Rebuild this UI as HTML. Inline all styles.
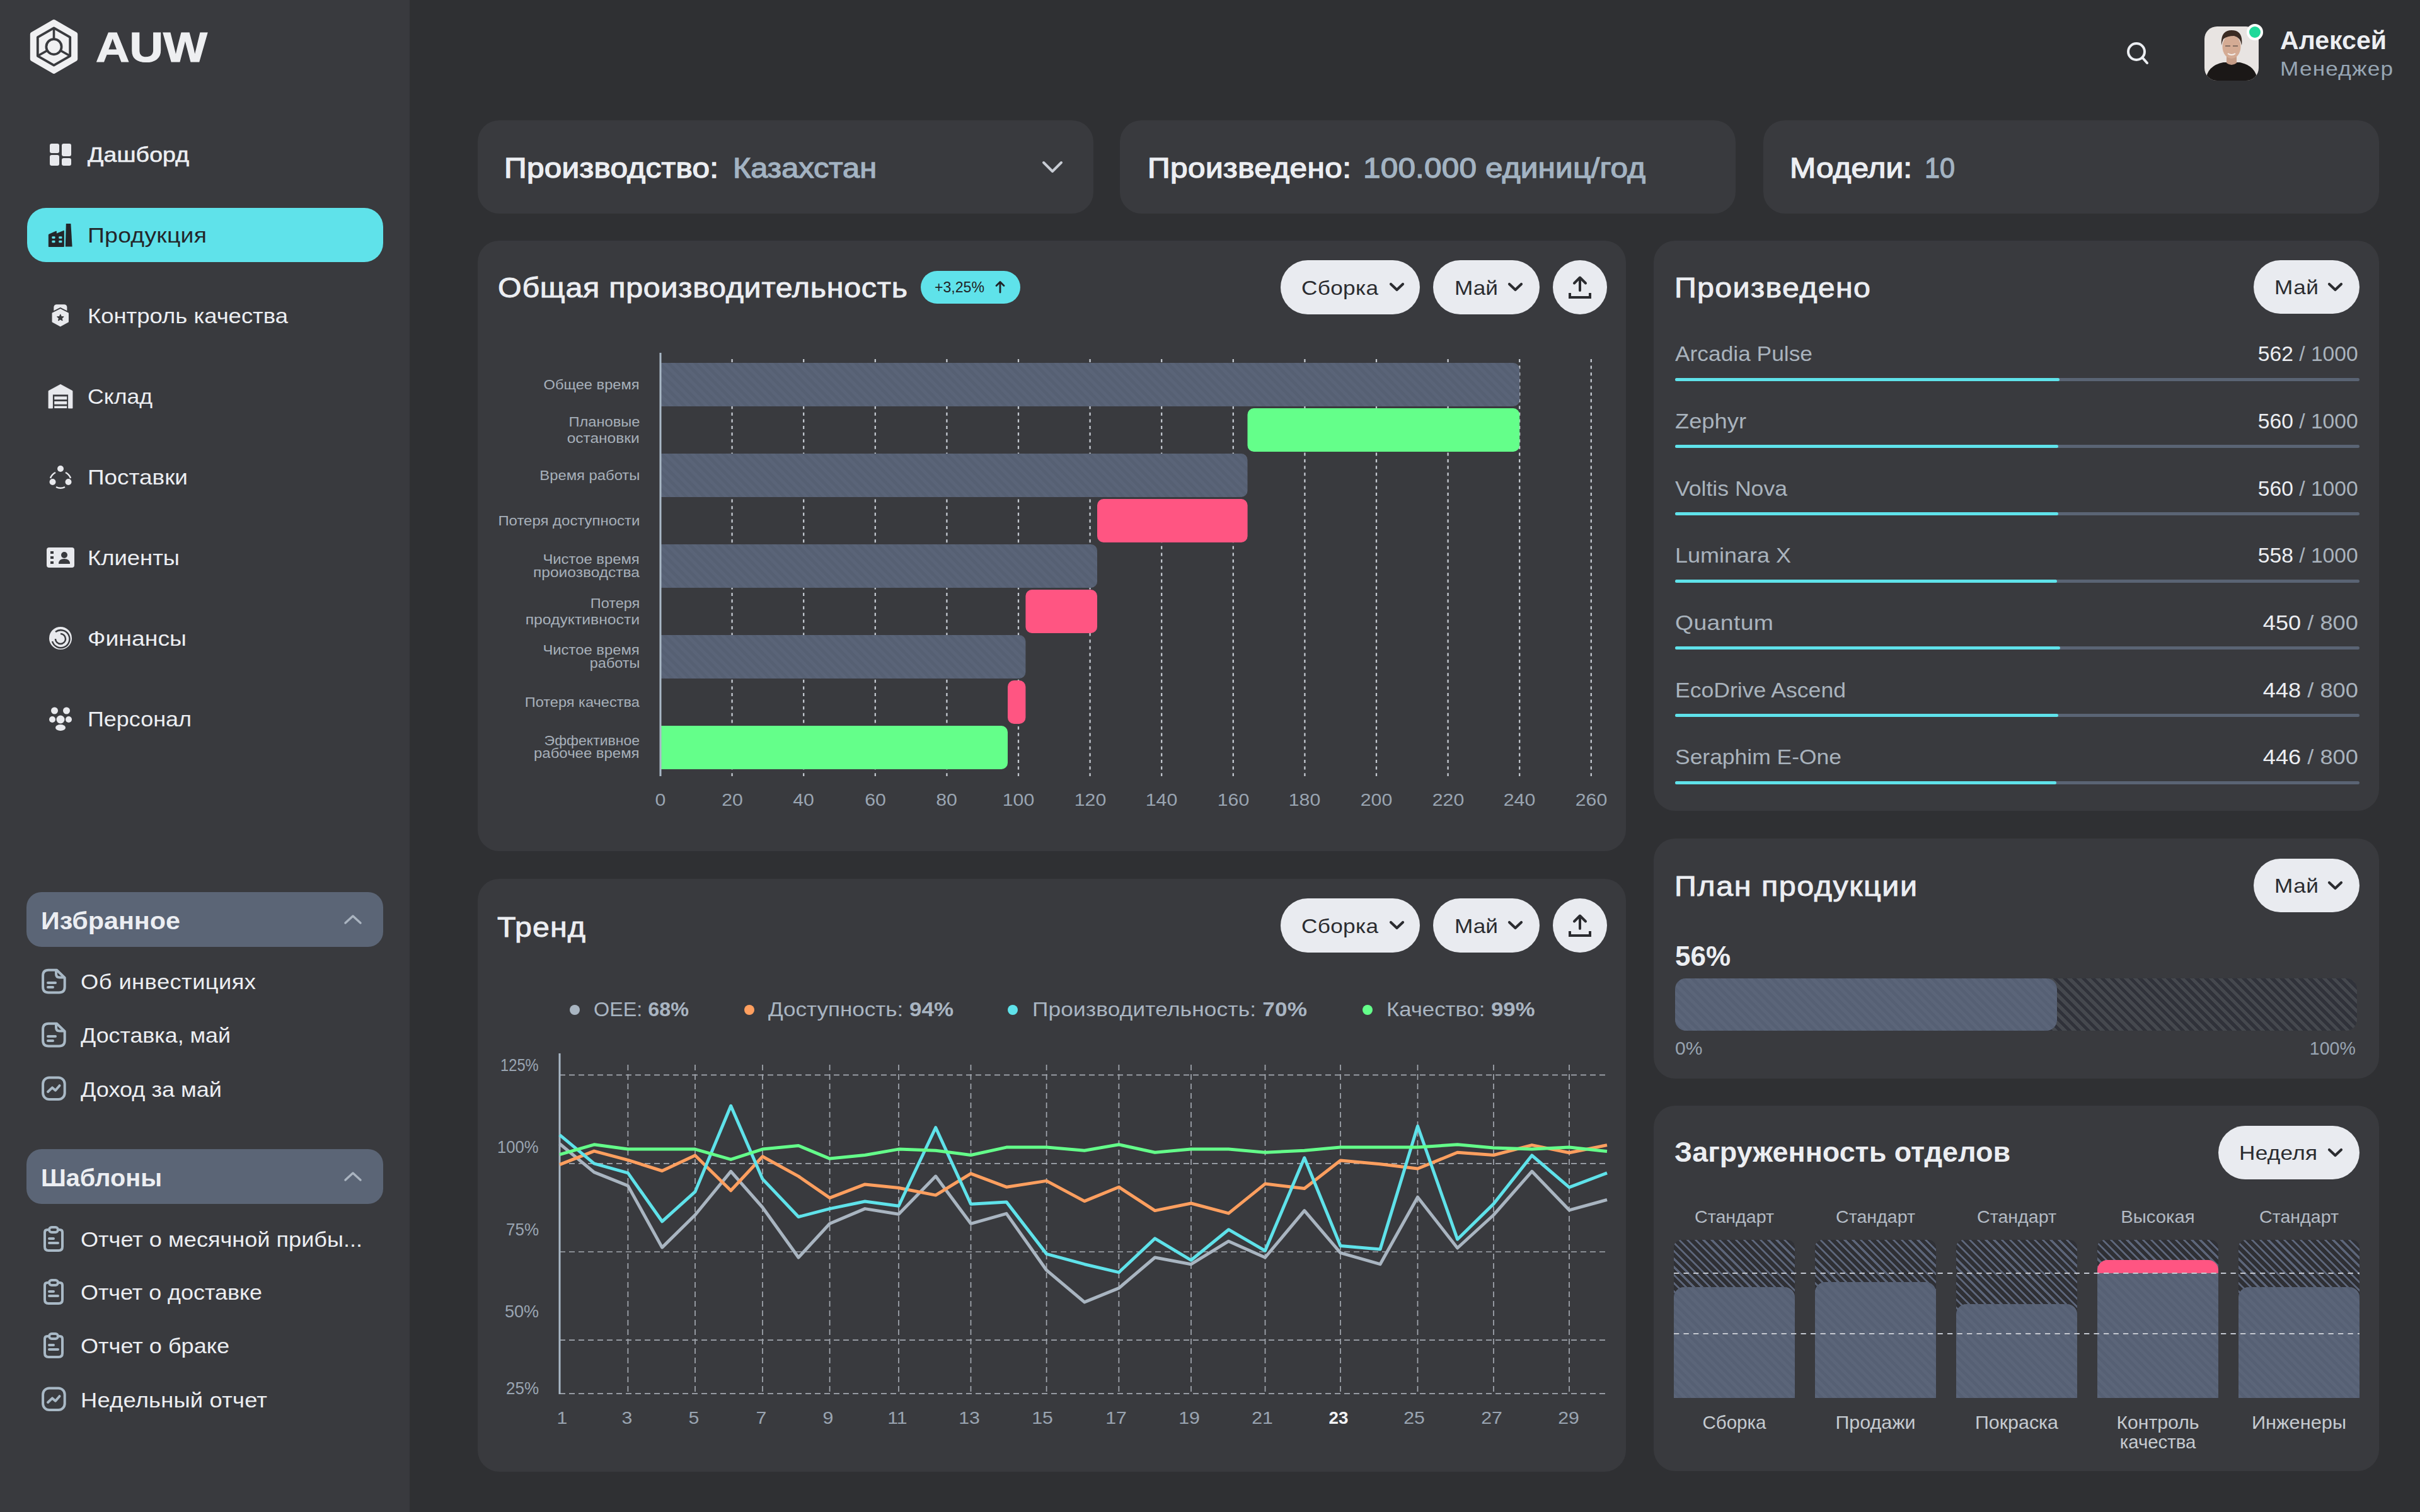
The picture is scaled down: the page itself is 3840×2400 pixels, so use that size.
<!DOCTYPE html>
<html><head><meta charset="utf-8"><style>
html,body{margin:0;padding:0;width:3840px;height:2400px;overflow:hidden;background:#2f3033;font-family:"Liberation Sans", sans-serif;}
.t{position:absolute;white-space:nowrap;}
b{font-weight:700}
@media (max-width:2400px){html{zoom:0.5}}
</style></head><body>
<div style="position:absolute;left:0;top:0;width:650px;height:2400px;background:#393a3e"></div>
<svg style="position:absolute;left:0;top:0" width="650" height="140" viewBox="0 0 650 140">
<path d="M85.5 34.5 L119.7 54.2 L119.7 93.8 L85.5 113.5 L51.3 93.8 L51.3 54.2 Z" fill="#f0f0f2" stroke="#f0f0f2" stroke-width="7" stroke-linejoin="round"/>
<path d="M85.5 44.3 L111.2 59.2 L111.2 88.8 L85.5 103.7 L59.8 88.8 L59.8 59.1 Z" fill="none" stroke="#393a3e" stroke-width="3.8" stroke-linejoin="round"/>
<circle cx="85.5" cy="74.2" r="12.1" fill="none" stroke="#393a3e" stroke-width="3.8"/>
<line x1="85.5" y1="45" x2="85.5" y2="62" stroke="#393a3e" stroke-width="3.6"/>
<line x1="59.8" y1="88.8" x2="75" y2="80.2" stroke="#393a3e" stroke-width="3.6"/>
<line x1="111.2" y1="88.8" x2="96" y2="80.2" stroke="#393a3e" stroke-width="3.6"/>
</svg>
<div class="t" style="left:152px;top:41.3px;font-size:67px;line-height:67px;color:#eeeff1;font-weight:700;letter-spacing:0.00px;transform:scaleX(1.1050);transform-origin:0 0;-webkit-text-stroke:1.2px #eeeff1;">AUW</div>
<div style="position:absolute;left:43px;top:330px;width:565px;height:86px;border-radius:30px;background:#5fe2ea"></div>
<div class="t" style="left:139px;top:228.4px;font-size:34px;line-height:34px;color:#eceef2;font-weight:400;letter-spacing:0.13px;transform:scaleX(1.1000);transform-origin:0 0;-webkit-text-stroke:0.6px #eceef2;">Дашборд</div>
<div class="t" style="left:139px;top:356.4px;font-size:34px;line-height:34px;color:#24262a;font-weight:400;letter-spacing:0.21px;transform:scaleX(1.1000);transform-origin:0 0;">Продукция</div>
<div class="t" style="left:139px;top:484.4px;font-size:34px;line-height:34px;color:#eceef2;font-weight:400;letter-spacing:0.00px;transform:scaleX(1.0718);transform-origin:0 0;">Контроль качества</div>
<div class="t" style="left:139px;top:612.4px;font-size:34px;line-height:34px;color:#eceef2;font-weight:400;letter-spacing:0.00px;transform:scaleX(1.0467);transform-origin:0 0;">Склад</div>
<div class="t" style="left:139px;top:740.4px;font-size:34px;line-height:34px;color:#eceef2;font-weight:400;letter-spacing:0.00px;transform:scaleX(1.0861);transform-origin:0 0;">Поставки</div>
<div class="t" style="left:139px;top:868.4px;font-size:34px;line-height:34px;color:#eceef2;font-weight:400;letter-spacing:0.00px;transform:scaleX(1.0708);transform-origin:0 0;">Клиенты</div>
<div class="t" style="left:139px;top:996.4px;font-size:34px;line-height:34px;color:#eceef2;font-weight:400;letter-spacing:0.00px;transform:scaleX(1.0998);transform-origin:0 0;">Финансы</div>
<div class="t" style="left:139px;top:1124.4px;font-size:34px;line-height:34px;color:#eceef2;font-weight:400;letter-spacing:0.00px;transform:scaleX(1.0572);transform-origin:0 0;">Персонал</div>
<svg style="position:absolute;left:0;top:0" width="650" height="1200" viewBox="0 0 650 1200">
<!-- dashboard -->
<rect x="79" y="228" width="15" height="15" rx="3" fill="#e8e9ed"/>
<rect x="98" y="228" width="15" height="20" rx="3" fill="#e8e9ed"/>
<rect x="79" y="246" width="15" height="17" rx="3" fill="#e8e9ed"/>
<rect x="98" y="251" width="15" height="12" rx="3" fill="#e8e9ed"/>
<!-- factory (dark) -->
<path d="M77.3 391.5 L77.3 372.3 L89.3 367 L89.3 371.2 L101.3 366.3 L101.3 391.5 Z" fill="#23262a" stroke="#23262a" stroke-width="1" stroke-linejoin="round"/>
<path d="M103.8 391.5 L104.8 355 L112.4 355 L114.6 391.5 Z" fill="#23262a"/>
<rect x="82.4" y="375.2" width="5.1" height="3.6" rx="1" fill="#5fe2ea"/><rect x="93.3" y="375.2" width="5.1" height="3.6" rx="1" fill="#5fe2ea"/>
<rect x="82.4" y="381.7" width="5.1" height="3.6" rx="1" fill="#5fe2ea"/><rect x="93.3" y="381.7" width="5.1" height="3.6" rx="1" fill="#5fe2ea"/>
<!-- quality -->
<rect x="85.3" y="483.3" width="21.1" height="14" rx="4.5" fill="#e8e9ed"/>
<path d="M95.8 489.5 L109.5 496.5 L109.5 511.5 L95.8 519 L82 511.5 L82 496.5 Z" fill="#e8e9ed" stroke="#393a3e" stroke-width="3" stroke-linejoin="round"/>
<path d="M95.8 490.8 L108.2 497.2 L108.2 510.8 L95.8 517.7 L83.3 510.8 L83.3 497.2 Z" fill="#e8e9ed" stroke="#e8e9ed" stroke-width="1.5" stroke-linejoin="round"/>
<path d="M95.80 498.90 L97.33 502.40 L101.13 502.77 L98.27 505.30 L99.09 509.03 L95.80 507.10 L92.51 509.03 L93.33 505.30 L90.47 502.77 L94.27 502.40 Z" fill="#393a3e" stroke="#393a3e" stroke-width="1" stroke-linejoin="round"/>
<!-- warehouse -->
<path d="M77 648 L77 620.5 L96 610.2 L115 620.5 L115 648 L108.5 648 L108.5 626 L83.5 626 L83.5 648 Z" fill="#e8e9ed" stroke="#e8e9ed" stroke-width="0.8" stroke-linejoin="round"/>
<rect x="86.2" y="629.3" width="20" height="4.9" fill="#e8e9ed"/><rect x="86.2" y="637" width="20" height="4.8" fill="#e8e9ed"/><rect x="86.2" y="644.5" width="20" height="3.5" fill="#e8e9ed"/>
<!-- supply -->
<circle cx="96" cy="744" r="5" fill="#e8e9ed"/><circle cx="83.5" cy="765" r="5" fill="#e8e9ed"/><circle cx="108.5" cy="765" r="5" fill="#e8e9ed"/>
<path d="M88 750 A16 16 0 0 0 80 759" fill="none" stroke="#e8e9ed" stroke-width="2.5"/>
<path d="M104 750 A16 16 0 0 1 112 759" fill="none" stroke="#e8e9ed" stroke-width="2.5"/>
<path d="M89 773 A16 16 0 0 0 103 773" fill="none" stroke="#e8e9ed" stroke-width="2.5"/>
<!-- clients -->
<rect x="74" y="869" width="44" height="32" rx="4" fill="#e8e9ed"/>
<rect x="80" y="875" width="5" height="4" fill="#393a3e"/><rect x="80" y="883" width="5" height="4" fill="#393a3e"/><rect x="80" y="891" width="5" height="4" fill="#393a3e"/>
<circle cx="102" cy="881" r="5" fill="#393a3e"/><path d="M93 895 Q93 887 102 887 Q111 887 111 895 Z" fill="#393a3e"/>
<!-- finance -->
<circle cx="96" cy="1013" r="18" fill="#e8e9ed"/>
<path d="M88 1014 A8 8 0 1 0 96 1006" fill="none" stroke="#393a3e" stroke-width="2.5"/>
<path d="M88 1003 A14 14 0 1 1 83 1018" fill="none" stroke="#393a3e" stroke-width="2.5"/>
<!-- staff -->
<circle cx="86.5" cy="1128" r="5.5" fill="#e8e9ed"/><circle cx="105.5" cy="1128" r="5.5" fill="#e8e9ed"/>
<circle cx="96" cy="1142" r="6.5" fill="#e8e9ed"/>
<ellipse cx="83" cy="1142" rx="5" ry="5" fill="#e8e9ed"/><ellipse cx="109" cy="1142" rx="5" ry="5" fill="#e8e9ed"/>
<ellipse cx="96" cy="1155" rx="8" ry="5" fill="#e8e9ed"/>
</svg>
<div style="position:absolute;left:42px;top:1416px;width:566px;height:87px;border-radius:24px;background:#5b6576"></div>
<div class="t" style="left:65px;top:1442.0px;font-size:39px;line-height:39px;color:#eceef2;font-weight:700;letter-spacing:0.00px;transform:scaleX(1.0590);transform-origin:0 0;">Избранное</div>
<svg style="position:absolute;left:540px;top:1446px" width="40" height="30"><path d="M8 19 L20 8 L32 19" fill="none" stroke="#aab4c0" stroke-width="3.5" stroke-linecap="round" stroke-linejoin="round"/></svg>
<div style="position:absolute;left:42px;top:1824px;width:566px;height:87px;border-radius:24px;background:#5b6576"></div>
<div class="t" style="left:65px;top:1850.0px;font-size:39px;line-height:39px;color:#eceef2;font-weight:700;letter-spacing:0.00px;transform:scaleX(1.0161);transform-origin:0 0;">Шаблоны</div>
<svg style="position:absolute;left:540px;top:1854px" width="40" height="30"><path d="M8 19 L20 8 L32 19" fill="none" stroke="#aab4c0" stroke-width="3.5" stroke-linecap="round" stroke-linejoin="round"/></svg>
<svg style="position:absolute;left:60px;top:1532px" width="52" height="52" viewBox="60 1532 52 52"><path d="M77 1539.7 L90 1539.7 L102.7 1552 L102.7 1566.4 Q102.7 1575.4 93.7 1575.4 L77 1575.4 Q68.1 1575.4 68.1 1566.4 L68.1 1548.7 Q68.1 1539.7 77 1539.7 Z" fill="none" stroke="#a9b9c6" stroke-width="4" stroke-linejoin="round"/><path d="M89 1540.5 L89 1546 Q89 1551.5 94.5 1551.5 L102 1551.5" fill="none" stroke="#a9b9c6" stroke-width="4"/><line x1="76" y1="1560" x2="88" y2="1560" stroke="#a9b9c6" stroke-width="4" stroke-linecap="round"/><line x1="76" y1="1567" x2="84" y2="1567" stroke="#a9b9c6" stroke-width="4" stroke-linecap="round"/></svg>
<div class="t" style="left:128px;top:1541.6px;font-size:33px;line-height:33px;color:#eceef2;font-weight:400;letter-spacing:0.39px;transform:scaleX(1.1000);transform-origin:0 0;">Об инвестициях</div>
<svg style="position:absolute;left:60px;top:1617px" width="52" height="52" viewBox="60 1617 52 52"><path d="M77 1624.7 L90 1624.7 L102.7 1637 L102.7 1651.4 Q102.7 1660.4 93.7 1660.4 L77 1660.4 Q68.1 1660.4 68.1 1651.4 L68.1 1633.7 Q68.1 1624.7 77 1624.7 Z" fill="none" stroke="#a9b9c6" stroke-width="4" stroke-linejoin="round"/><path d="M89 1625.5 L89 1631 Q89 1636.5 94.5 1636.5 L102 1636.5" fill="none" stroke="#a9b9c6" stroke-width="4"/><line x1="76" y1="1645" x2="88" y2="1645" stroke="#a9b9c6" stroke-width="4" stroke-linecap="round"/><line x1="76" y1="1652" x2="84" y2="1652" stroke="#a9b9c6" stroke-width="4" stroke-linecap="round"/></svg>
<div class="t" style="left:128px;top:1626.6px;font-size:33px;line-height:33px;color:#eceef2;font-weight:400;letter-spacing:0.00px;transform:scaleX(1.0841);transform-origin:0 0;">Доставка, май</div>
<svg style="position:absolute;left:60px;top:1703px" width="52" height="52" viewBox="60 1703 52 52"><rect x="68.1" y="1710.4" width="34.6" height="34.6" rx="10" fill="none" stroke="#a9b9c6" stroke-width="4"/><path d="M76 1733 L83 1726.4 L88 1730.7 L94.5 1723.2" fill="none" stroke="#a9b9c6" stroke-width="4" stroke-linecap="round" stroke-linejoin="round"/></svg>
<div class="t" style="left:128px;top:1712.6px;font-size:33px;line-height:33px;color:#eceef2;font-weight:400;letter-spacing:0.00px;transform:scaleX(1.0926);transform-origin:0 0;">Доход за май</div>
<svg style="position:absolute;left:60px;top:1941px" width="52" height="52" viewBox="60 1941 52 52"><path d="M77 1952 L75 1952 Q71 1952 71 1956 L71 1979 Q71 1985 77 1985 L93 1985 Q99 1985 99 1979 L99 1956 Q99 1952 95 1952 L93 1952" fill="none" stroke="#a9b9c6" stroke-width="4"/><rect x="78" y="1948" width="14" height="8" rx="4" fill="none" stroke="#a9b9c6" stroke-width="4"/><line x1="78" y1="1966" x2="85" y2="1966" stroke="#a9b9c6" stroke-width="4" stroke-linecap="round"/><line x1="78" y1="1973" x2="92" y2="1973" stroke="#a9b9c6" stroke-width="4" stroke-linecap="round"/></svg>
<div class="t" style="left:128px;top:1950.6px;font-size:33px;line-height:33px;color:#eceef2;font-weight:400;letter-spacing:0.00px;transform:scaleX(1.0940);transform-origin:0 0;">Отчет о месячной прибы...</div>
<svg style="position:absolute;left:60px;top:2025px" width="52" height="52" viewBox="60 2025 52 52"><path d="M77 2036 L75 2036 Q71 2036 71 2040 L71 2063 Q71 2069 77 2069 L93 2069 Q99 2069 99 2063 L99 2040 Q99 2036 95 2036 L93 2036" fill="none" stroke="#a9b9c6" stroke-width="4"/><rect x="78" y="2032" width="14" height="8" rx="4" fill="none" stroke="#a9b9c6" stroke-width="4"/><line x1="78" y1="2050" x2="85" y2="2050" stroke="#a9b9c6" stroke-width="4" stroke-linecap="round"/><line x1="78" y1="2057" x2="92" y2="2057" stroke="#a9b9c6" stroke-width="4" stroke-linecap="round"/></svg>
<div class="t" style="left:128px;top:2034.6px;font-size:33px;line-height:33px;color:#eceef2;font-weight:400;letter-spacing:0.00px;transform:scaleX(1.0870);transform-origin:0 0;">Отчет о доставке</div>
<svg style="position:absolute;left:60px;top:2110px" width="52" height="52" viewBox="60 2110 52 52"><path d="M77 2121 L75 2121 Q71 2121 71 2125 L71 2148 Q71 2154 77 2154 L93 2154 Q99 2154 99 2148 L99 2125 Q99 2121 95 2121 L93 2121" fill="none" stroke="#a9b9c6" stroke-width="4"/><rect x="78" y="2117" width="14" height="8" rx="4" fill="none" stroke="#a9b9c6" stroke-width="4"/><line x1="78" y1="2135" x2="85" y2="2135" stroke="#a9b9c6" stroke-width="4" stroke-linecap="round"/><line x1="78" y1="2142" x2="92" y2="2142" stroke="#a9b9c6" stroke-width="4" stroke-linecap="round"/></svg>
<div class="t" style="left:128px;top:2119.6px;font-size:33px;line-height:33px;color:#eceef2;font-weight:400;letter-spacing:0.00px;transform:scaleX(1.0935);transform-origin:0 0;">Отчет о браке</div>
<svg style="position:absolute;left:60px;top:2196px" width="52" height="52" viewBox="60 2196 52 52"><rect x="68.1" y="2203.4" width="34.6" height="34.6" rx="10" fill="none" stroke="#a9b9c6" stroke-width="4"/><path d="M76 2226 L83 2219.4 L88 2223.7 L94.5 2216.2" fill="none" stroke="#a9b9c6" stroke-width="4" stroke-linecap="round" stroke-linejoin="round"/></svg>
<div class="t" style="left:128px;top:2205.6px;font-size:33px;line-height:33px;color:#eceef2;font-weight:400;letter-spacing:0.20px;transform:scaleX(1.1000);transform-origin:0 0;">Недельный отчет</div>
<svg style="position:absolute;left:3360px;top:55px" width="60" height="60" viewBox="3360 55 60 60">
<circle cx="3390" cy="82" r="13" fill="none" stroke="#eceef2" stroke-width="4"/>
<line x1="3400" y1="92" x2="3407" y2="100" stroke="#eceef2" stroke-width="4" stroke-linecap="round"/></svg>
<div style="position:absolute;left:3498px;top:42px;width:86px;height:86px;border-radius:20px;overflow:hidden;background:#e8e4e2">
<svg width="86" height="86" viewBox="0 0 86 86">
<path d="M2 86 Q4 62 30 57 L56 57 Q82 62 84 86 Z" fill="#1b1817"/>
<path d="M35 44 L51 44 L51 58 Q43 64 35 58 Z" fill="#c59c86"/>
<ellipse cx="43" cy="32" rx="14.5" ry="19" fill="#d4ab94"/>
<path d="M27 30 Q25 6 43 6 Q62 6 59 30 Q57 17 47 15 Q36 15 30 20 Q28 24 27 30 Z" fill="#3b2b23"/>
<path d="M33 31 h8 M45 31 h8" stroke="#6a5a50" stroke-width="1.6"/>
<path d="M37 43 Q43 47 49 43" stroke="#f4efec" stroke-width="2" fill="none"/>
</svg></div>
<div style="position:absolute;left:3565px;top:38px;width:26px;height:26px;border-radius:50%;background:#fff"></div>
<div style="position:absolute;left:3569px;top:42px;width:18px;height:18px;border-radius:50%;background:#1fd99a"></div>
<div class="t" style="left:3618px;top:44.1px;font-size:40px;line-height:40px;color:#eceef2;font-weight:700;letter-spacing:0.00px;transform:scaleX(1.0268);transform-origin:0 0;">Алексей</div>
<div class="t" style="left:3618px;top:92.9px;font-size:32px;line-height:32px;color:#97a6b4;font-weight:400;letter-spacing:1.07px;transform:scaleX(1.1000);transform-origin:0 0;">Менеджер</div>
<div style="position:absolute;left:758px;top:191px;width:977px;height:148px;border-radius:34px;background:#393a3e"></div>
<div style="position:absolute;left:1777px;top:191px;width:977px;height:148px;border-radius:34px;background:#393a3e"></div>
<div style="position:absolute;left:2798px;top:191px;width:977px;height:148px;border-radius:34px;background:#393a3e"></div>
<div class="t" style="left:800px;top:243.7px;font-size:45px;line-height:45px;color:#eceef2;font-weight:400;letter-spacing:0.27px;transform:scaleX(1.1000);transform-origin:0 0;-webkit-text-stroke:1.4px #eceef2;">Производство:</div>
<div class="t" style="left:1163px;top:243.7px;font-size:45px;line-height:45px;color:#a3b3c2;font-weight:400;letter-spacing:0.00px;transform:scaleX(1.0812);transform-origin:0 0;-webkit-text-stroke:1.3px #a3b3c2;">Казахстан</div>
<svg style="position:absolute;left:1650px;top:250px" width="42" height="32"><path d="M6 8 L20 22 L34 8" fill="none" stroke="#c8ccd4" stroke-width="4" stroke-linecap="round" stroke-linejoin="round"/></svg>
<div class="t" style="left:1821px;top:243.7px;font-size:45px;line-height:45px;color:#eceef2;font-weight:400;letter-spacing:0.40px;transform:scaleX(1.1000);transform-origin:0 0;-webkit-text-stroke:1.4px #eceef2;">Произведено:</div>
<div class="t" style="left:2163px;top:243.7px;font-size:45px;line-height:45px;color:#a3b3c2;font-weight:400;letter-spacing:0.16px;transform:scaleX(1.1000);transform-origin:0 0;-webkit-text-stroke:1.3px #a3b3c2;">100.000 единиц/год</div>
<div class="t" style="left:2840px;top:243.7px;font-size:45px;line-height:45px;color:#eceef2;font-weight:400;letter-spacing:0.11px;transform:scaleX(1.1000);transform-origin:0 0;-webkit-text-stroke:1.4px #eceef2;">Модели:</div>
<div class="t" style="left:3054px;top:243.7px;font-size:45px;line-height:45px;color:#a3b3c2;font-weight:400;letter-spacing:0.00px;transform:scaleX(0.9588);transform-origin:0 0;-webkit-text-stroke:1.3px #a3b3c2;">10</div>
<div style="position:absolute;left:758px;top:382px;width:1822px;height:969px;border-radius:34px;background:#393a3e"></div>
<div style="position:absolute;left:758px;top:1395px;width:1822px;height:941px;border-radius:34px;background:#393a3e"></div>
<div style="position:absolute;left:2624px;top:382px;width:1151px;height:905px;border-radius:34px;background:#393a3e"></div>
<div style="position:absolute;left:2624px;top:1331px;width:1151px;height:381px;border-radius:34px;background:#393a3e"></div>
<div style="position:absolute;left:2624px;top:1755px;width:1151px;height:580px;border-radius:34px;background:#393a3e"></div>
<div class="t" style="left:790px;top:434.8px;font-size:44px;line-height:44px;color:#eceef2;font-weight:400;letter-spacing:0.67px;transform:scaleX(1.1000);transform-origin:0 0;-webkit-text-stroke:0.9px #eceef2;">Общая производительность</div>
<div style="position:absolute;left:1461px;top:430px;width:158px;height:52px;border-radius:26px;background:#5fe2ea"></div>
<div class="t" style="left:1483px;top:444.2px;font-size:24px;line-height:24px;color:#1f2226;font-weight:400;letter-spacing:0.00px;transform:scaleX(0.9625);transform-origin:0 0;">+3,25%</div>
<svg style="position:absolute;left:1574.5px;top:440px" width="24" height="32"><path d="M12 24 L12 8 M6 13.5 L12 7.5 L18 13.5" fill="none" stroke="#1f2226" stroke-width="2.8" stroke-linecap="round" stroke-linejoin="round"/></svg>
<div style="position:absolute;left:2032px;top:413px;width:221px;height:86px;border-radius:43.0px;background:#e9ebf0"></div>
<div class="t" style="left:2065px;top:440.9px;font-size:32px;line-height:32px;color:#2b2c30;font-weight:400;letter-spacing:0.28px;transform:scaleX(1.1000);transform-origin:0 0;">Сборка</div>
<svg style="position:absolute;left:2202px;top:447.0px" width="32" height="20"><path d="M5 4 L14.5 13 L24 4" fill="none" stroke="#2b2c30" stroke-width="4.2" stroke-linecap="round" stroke-linejoin="round"/></svg>
<div style="position:absolute;left:2274px;top:413px;width:169px;height:86px;border-radius:43.0px;background:#e9ebf0"></div>
<div class="t" style="left:2308px;top:440.9px;font-size:32px;line-height:32px;color:#2b2c30;font-weight:400;letter-spacing:0.02px;transform:scaleX(1.1000);transform-origin:0 0;">Май</div>
<svg style="position:absolute;left:2390px;top:447.0px" width="32" height="20"><path d="M5 4 L14.5 13 L24 4" fill="none" stroke="#2b2c30" stroke-width="4.2" stroke-linecap="round" stroke-linejoin="round"/></svg>
<div style="position:absolute;left:2464px;top:413px;width:86px;height:86px;border-radius:50%;background:#e9ebf0"></div>
<svg style="position:absolute;left:2464px;top:413px" width="86" height="86"><path d="M43 48 L43 28 M34 36.5 L43 27.5 L52 36.5" fill="none" stroke="#2b2c30" stroke-width="4" stroke-linecap="round" stroke-linejoin="round"/><path d="M27 52 L27 59 L59 59 L59 52" fill="none" stroke="#2b2c30" stroke-width="4"/></svg>
<div style="position:absolute;left:2032px;top:1426px;width:221px;height:86px;border-radius:43.0px;background:#e9ebf0"></div>
<div class="t" style="left:2065px;top:1453.9px;font-size:32px;line-height:32px;color:#2b2c30;font-weight:400;letter-spacing:0.28px;transform:scaleX(1.1000);transform-origin:0 0;">Сборка</div>
<svg style="position:absolute;left:2202px;top:1460.0px" width="32" height="20"><path d="M5 4 L14.5 13 L24 4" fill="none" stroke="#2b2c30" stroke-width="4.2" stroke-linecap="round" stroke-linejoin="round"/></svg>
<div style="position:absolute;left:2274px;top:1426px;width:169px;height:86px;border-radius:43.0px;background:#e9ebf0"></div>
<div class="t" style="left:2308px;top:1453.9px;font-size:32px;line-height:32px;color:#2b2c30;font-weight:400;letter-spacing:0.02px;transform:scaleX(1.1000);transform-origin:0 0;">Май</div>
<svg style="position:absolute;left:2390px;top:1460.0px" width="32" height="20"><path d="M5 4 L14.5 13 L24 4" fill="none" stroke="#2b2c30" stroke-width="4.2" stroke-linecap="round" stroke-linejoin="round"/></svg>
<div style="position:absolute;left:2464px;top:1426px;width:86px;height:86px;border-radius:50%;background:#e9ebf0"></div>
<svg style="position:absolute;left:2464px;top:1426px" width="86" height="86"><path d="M43 48 L43 28 M34 36.5 L43 27.5 L52 36.5" fill="none" stroke="#2b2c30" stroke-width="4" stroke-linecap="round" stroke-linejoin="round"/><path d="M27 52 L27 59 L59 59 L59 52" fill="none" stroke="#2b2c30" stroke-width="4"/></svg>
<div class="t" style="left:789px;top:1450.3px;font-size:44px;line-height:44px;color:#eceef2;font-weight:400;letter-spacing:0.99px;transform:scaleX(1.1000);transform-origin:0 0;-webkit-text-stroke:0.9px #eceef2;">Тренд</div>
<div class="t" style="left:2657px;top:434.8px;font-size:44px;line-height:44px;color:#eceef2;font-weight:400;letter-spacing:1.21px;transform:scaleX(1.1000);transform-origin:0 0;-webkit-text-stroke:0.9px #eceef2;">Произведено</div>
<div style="position:absolute;left:3576px;top:413px;width:168px;height:85px;border-radius:42.5px;background:#e9ebf0"></div>
<div class="t" style="left:3609px;top:440.4px;font-size:32px;line-height:32px;color:#2b2c30;font-weight:400;letter-spacing:0.47px;transform:scaleX(1.1000);transform-origin:0 0;">Май</div>
<svg style="position:absolute;left:3691px;top:446.5px" width="32" height="20"><path d="M5 4 L14.5 13 L24 4" fill="none" stroke="#2b2c30" stroke-width="4.2" stroke-linecap="round" stroke-linejoin="round"/></svg>
<div class="t" style="left:2657px;top:1385.3px;font-size:44px;line-height:44px;color:#eceef2;font-weight:400;letter-spacing:1.43px;transform:scaleX(1.1000);transform-origin:0 0;-webkit-text-stroke:0.9px #eceef2;">План продукции</div>
<div style="position:absolute;left:3576px;top:1363px;width:168px;height:85px;border-radius:42.5px;background:#e9ebf0"></div>
<div class="t" style="left:3609px;top:1390.4px;font-size:32px;line-height:32px;color:#2b2c30;font-weight:400;letter-spacing:0.47px;transform:scaleX(1.1000);transform-origin:0 0;">Май</div>
<svg style="position:absolute;left:3691px;top:1396.5px" width="32" height="20"><path d="M5 4 L14.5 13 L24 4" fill="none" stroke="#2b2c30" stroke-width="4.2" stroke-linecap="round" stroke-linejoin="round"/></svg>
<div class="t" style="left:2657px;top:1807.3px;font-size:44px;line-height:44px;color:#eceef2;font-weight:700;letter-spacing:0.00px;transform:scaleX(1.0212);transform-origin:0 0;">Загруженность отделов</div>
<div style="position:absolute;left:3520px;top:1787px;width:224px;height:85px;border-radius:42.5px;background:#e9ebf0"></div>
<div class="t" style="left:3553px;top:1814.4px;font-size:32px;line-height:32px;color:#2b2c30;font-weight:400;letter-spacing:0.22px;transform:scaleX(1.1000);transform-origin:0 0;">Неделя</div>
<svg style="position:absolute;left:3691px;top:1820.5px" width="32" height="20"><path d="M5 4 L14.5 13 L24 4" fill="none" stroke="#2b2c30" stroke-width="4.2" stroke-linecap="round" stroke-linejoin="round"/></svg>
<div class="t" style="left:2658px;top:544.2px;font-size:34px;line-height:34px;color:#a9b3bd;font-weight:400;letter-spacing:0.00px;transform:scaleX(1.0392);transform-origin:0 0;">Arcadia Pulse</div>
<div class="t" style="right:98.00px;text-align:right;top:544.2px;font-size:34px;line-height:34px;color:#a9b3bd;font-weight:400;letter-spacing:0.00px;transform:scaleX(0.9893);transform-origin:100% 0;"><span style="color:#eceef2">562</span> / 1000</div>
<div style="position:absolute;left:2658px;top:599.5px;width:1086px;height:5px;border-radius:3px;background:#5a6474"></div>
<div style="position:absolute;left:2658px;top:599.5px;width:610.3px;height:5px;border-radius:3px;background:#5fe2ea"></div>
<div class="t" style="left:2658px;top:650.9px;font-size:34px;line-height:34px;color:#a9b3bd;font-weight:400;letter-spacing:0.00px;transform:scaleX(1.0678);transform-origin:0 0;">Zephyr</div>
<div class="t" style="right:98.00px;text-align:right;top:650.9px;font-size:34px;line-height:34px;color:#a9b3bd;font-weight:400;letter-spacing:0.00px;transform:scaleX(0.9893);transform-origin:100% 0;"><span style="color:#eceef2">560</span> / 1000</div>
<div style="position:absolute;left:2658px;top:706.2px;width:1086px;height:5px;border-radius:3px;background:#5a6474"></div>
<div style="position:absolute;left:2658px;top:706.2px;width:608.2px;height:5px;border-radius:3px;background:#5fe2ea"></div>
<div class="t" style="left:2658px;top:757.6px;font-size:34px;line-height:34px;color:#a9b3bd;font-weight:400;letter-spacing:0.00px;transform:scaleX(1.0465);transform-origin:0 0;">Voltis Nova</div>
<div class="t" style="right:98.00px;text-align:right;top:757.6px;font-size:34px;line-height:34px;color:#a9b3bd;font-weight:400;letter-spacing:0.00px;transform:scaleX(0.9893);transform-origin:100% 0;"><span style="color:#eceef2">560</span> / 1000</div>
<div style="position:absolute;left:2658px;top:812.9px;width:1086px;height:5px;border-radius:3px;background:#5a6474"></div>
<div style="position:absolute;left:2658px;top:812.9px;width:608.2px;height:5px;border-radius:3px;background:#5fe2ea"></div>
<div class="t" style="left:2658px;top:864.3px;font-size:34px;line-height:34px;color:#a9b3bd;font-weight:400;letter-spacing:0.00px;transform:scaleX(1.0582);transform-origin:0 0;">Luminara X</div>
<div class="t" style="right:98.00px;text-align:right;top:864.3px;font-size:34px;line-height:34px;color:#a9b3bd;font-weight:400;letter-spacing:0.00px;transform:scaleX(0.9893);transform-origin:100% 0;"><span style="color:#eceef2">558</span> / 1000</div>
<div style="position:absolute;left:2658px;top:919.6px;width:1086px;height:5px;border-radius:3px;background:#5a6474"></div>
<div style="position:absolute;left:2658px;top:919.6px;width:606.0px;height:5px;border-radius:3px;background:#5fe2ea"></div>
<div class="t" style="left:2658px;top:971.0px;font-size:34px;line-height:34px;color:#a9b3bd;font-weight:400;letter-spacing:0.33px;transform:scaleX(1.1000);transform-origin:0 0;">Quantum</div>
<div class="t" style="right:98.00px;text-align:right;top:971.0px;font-size:34px;line-height:34px;color:#a9b3bd;font-weight:400;letter-spacing:0.00px;transform:scaleX(1.0648);transform-origin:100% 0;"><span style="color:#eceef2">450</span> / 800</div>
<div style="position:absolute;left:2658px;top:1026.3px;width:1086px;height:5px;border-radius:3px;background:#5a6474"></div>
<div style="position:absolute;left:2658px;top:1026.3px;width:610.9px;height:5px;border-radius:3px;background:#5fe2ea"></div>
<div class="t" style="left:2658px;top:1077.7px;font-size:34px;line-height:34px;color:#a9b3bd;font-weight:400;letter-spacing:0.00px;transform:scaleX(1.0467);transform-origin:0 0;">EcoDrive Ascend</div>
<div class="t" style="right:98.00px;text-align:right;top:1077.7px;font-size:34px;line-height:34px;color:#a9b3bd;font-weight:400;letter-spacing:0.00px;transform:scaleX(1.0648);transform-origin:100% 0;"><span style="color:#eceef2">448</span> / 800</div>
<div style="position:absolute;left:2658px;top:1133.0px;width:1086px;height:5px;border-radius:3px;background:#5a6474"></div>
<div style="position:absolute;left:2658px;top:1133.0px;width:608.2px;height:5px;border-radius:3px;background:#5fe2ea"></div>
<div class="t" style="left:2658px;top:1184.4px;font-size:34px;line-height:34px;color:#a9b3bd;font-weight:400;letter-spacing:0.00px;transform:scaleX(1.0425);transform-origin:0 0;">Seraphim E-One</div>
<div class="t" style="right:98.00px;text-align:right;top:1184.4px;font-size:34px;line-height:34px;color:#a9b3bd;font-weight:400;letter-spacing:0.00px;transform:scaleX(1.0648);transform-origin:100% 0;"><span style="color:#eceef2">446</span> / 800</div>
<div style="position:absolute;left:2658px;top:1239.7px;width:1086px;height:5px;border-radius:3px;background:#5a6474"></div>
<div style="position:absolute;left:2658px;top:1239.7px;width:605.4px;height:5px;border-radius:3px;background:#5fe2ea"></div>
<div class="t" style="left:2658px;top:1495.8px;font-size:44px;line-height:44px;color:#eceef2;font-weight:700;letter-spacing:0.00px;">56%</div>
<div style="position:absolute;left:2658px;top:1553px;width:1082px;height:83px;border-radius:17px;background:repeating-linear-gradient(45deg,#45484e 0 5.3px,#30323a 5.3px 10.6px)"></div>
<div style="position:absolute;left:2658px;top:1553px;width:606px;height:83px;border-radius:17px;background:repeating-linear-gradient(45deg,#5b6579 0 5px,#566074 5px 10px)"></div>
<div class="t" style="left:2658px;top:1648.6px;font-size:30px;line-height:30px;color:#98a4b1;font-weight:400;letter-spacing:0.00px;">0%</div>
<div class="t" style="right:102.00px;text-align:right;top:1648.6px;font-size:30px;line-height:30px;color:#98a4b1;font-weight:400;letter-spacing:0.00px;transform:scaleX(0.9500);transform-origin:100% 0;">100%</div>
<div class="t" style="left:1752.00px;width:2000px;text-align:center;top:1918.0px;font-size:28px;line-height:28px;color:#b3bbc4;font-weight:400;letter-spacing:0.00px;transform:scaleX(1.0205);transform-origin:50% 0;">Стандарт</div>
<div style="position:absolute;left:2656px;top:1968px;width:192px;height:251px;border-radius:12px 12px 0 0;background:repeating-linear-gradient(45deg,#5c6579 0 3px,#2f3035 3px 9.1px)"></div>
<div style="position:absolute;left:2656px;top:2043px;width:192px;height:176px;border-radius:16px 16px 0 0;background:repeating-linear-gradient(45deg,#5b6579 0 5px,#566074 5px 10px)"></div>
<div class="t" style="left:1752.00px;width:2000px;text-align:center;top:2242.6px;font-size:30px;line-height:30px;color:#c5cad0;font-weight:400;letter-spacing:0.00px;transform:scaleX(0.9836);transform-origin:50% 0;">Сборка</div>
<div class="t" style="left:1976.00px;width:2000px;text-align:center;top:1918.0px;font-size:28px;line-height:28px;color:#b3bbc4;font-weight:400;letter-spacing:0.00px;transform:scaleX(1.0205);transform-origin:50% 0;">Стандарт</div>
<div style="position:absolute;left:2880px;top:1968px;width:192px;height:251px;border-radius:12px 12px 0 0;background:repeating-linear-gradient(45deg,#5c6579 0 3px,#2f3035 3px 9.1px)"></div>
<div style="position:absolute;left:2880px;top:2035px;width:192px;height:184px;border-radius:16px 16px 0 0;background:repeating-linear-gradient(45deg,#5b6579 0 5px,#566074 5px 10px)"></div>
<div class="t" style="left:1976.00px;width:2000px;text-align:center;top:2242.6px;font-size:30px;line-height:30px;color:#c5cad0;font-weight:400;letter-spacing:0.00px;transform:scaleX(1.0136);transform-origin:50% 0;">Продажи</div>
<div class="t" style="left:2200.00px;width:2000px;text-align:center;top:1918.0px;font-size:28px;line-height:28px;color:#b3bbc4;font-weight:400;letter-spacing:0.00px;transform:scaleX(1.0205);transform-origin:50% 0;">Стандарт</div>
<div style="position:absolute;left:3104px;top:1968px;width:192px;height:251px;border-radius:12px 12px 0 0;background:repeating-linear-gradient(45deg,#5c6579 0 3px,#2f3035 3px 9.1px)"></div>
<div style="position:absolute;left:3104px;top:2070px;width:192px;height:149px;border-radius:16px 16px 0 0;background:repeating-linear-gradient(45deg,#5b6579 0 5px,#566074 5px 10px)"></div>
<div class="t" style="left:2200.00px;width:2000px;text-align:center;top:2242.6px;font-size:30px;line-height:30px;color:#c5cad0;font-weight:400;letter-spacing:0.00px;transform:scaleX(1.0137);transform-origin:50% 0;">Покраска</div>
<div class="t" style="left:2424.00px;width:2000px;text-align:center;top:1918.0px;font-size:28px;line-height:28px;color:#b3bbc4;font-weight:400;letter-spacing:0.00px;transform:scaleX(1.0463);transform-origin:50% 0;">Высокая</div>
<div style="position:absolute;left:3328px;top:1968px;width:192px;height:251px;border-radius:12px 12px 0 0;background:repeating-linear-gradient(45deg,#5c6579 0 3px,#2f3035 3px 9.1px)"></div>
<div style="position:absolute;left:3328px;top:2000px;width:192px;height:219px;border-radius:16px 16px 0 0;background:repeating-linear-gradient(45deg,#5b6579 0 5px,#566074 5px 10px)"></div>
<div style="position:absolute;left:3328px;top:2000px;width:192px;height:21px;border-radius:16px 16px 0 0;background:#ff5582"></div>
<div class="t" style="left:2424.00px;width:2000px;text-align:center;top:2242.6px;font-size:30px;line-height:30px;color:#c5cad0;font-weight:400;letter-spacing:0.00px;transform:scaleX(1.0053);transform-origin:50% 0;">Контроль</div>
<div class="t" style="left:2424.00px;width:2000px;text-align:center;top:2273.6px;font-size:30px;line-height:30px;color:#c5cad0;font-weight:400;letter-spacing:0.00px;transform:scaleX(0.9784);transform-origin:50% 0;">качества</div>
<div class="t" style="left:2648.00px;width:2000px;text-align:center;top:1918.0px;font-size:28px;line-height:28px;color:#b3bbc4;font-weight:400;letter-spacing:0.00px;transform:scaleX(1.0205);transform-origin:50% 0;">Стандарт</div>
<div style="position:absolute;left:3552px;top:1968px;width:192px;height:251px;border-radius:12px 12px 0 0;background:repeating-linear-gradient(45deg,#5c6579 0 3px,#2f3035 3px 9.1px)"></div>
<div style="position:absolute;left:3552px;top:2043px;width:192px;height:176px;border-radius:16px 16px 0 0;background:repeating-linear-gradient(45deg,#5b6579 0 5px,#566074 5px 10px)"></div>
<div class="t" style="left:2648.00px;width:2000px;text-align:center;top:2242.6px;font-size:30px;line-height:30px;color:#c5cad0;font-weight:400;letter-spacing:0.00px;transform:scaleX(1.0247);transform-origin:50% 0;">Инженеры</div>
<svg style="position:absolute;left:0;top:0" width="3840" height="2400"><g stroke="#c4c8d0" stroke-width="2" stroke-dasharray="8.3 7.2"><line x1="2656" y1="2021" x2="3744" y2="2021"/><line x1="2656" y1="2117" x2="3744" y2="2117"/></g></svg>
<svg style="position:absolute;left:0;top:0" width="3840" height="2400">
<g stroke="#c3c8cf" stroke-width="2.3" stroke-dasharray="5 5.6">
<line x1="1161.6" y1="570" x2="1161.6" y2="1232"/>
<line x1="1275.2" y1="570" x2="1275.2" y2="1232"/>
<line x1="1388.8" y1="570" x2="1388.8" y2="1232"/>
<line x1="1502.4" y1="570" x2="1502.4" y2="1232"/>
<line x1="1616.0" y1="570" x2="1616.0" y2="1232"/>
<line x1="1729.6" y1="570" x2="1729.6" y2="1232"/>
<line x1="1843.2" y1="570" x2="1843.2" y2="1232"/>
<line x1="1956.8" y1="570" x2="1956.8" y2="1232"/>
<line x1="2070.4" y1="570" x2="2070.4" y2="1232"/>
<line x1="2184.0" y1="570" x2="2184.0" y2="1232"/>
<line x1="2297.6" y1="570" x2="2297.6" y2="1232"/>
<line x1="2411.2" y1="570" x2="2411.2" y2="1232"/>
<line x1="2524.8" y1="570" x2="2524.8" y2="1232"/>
</g>
<defs><pattern id="hs" width="10" height="10" patternUnits="userSpaceOnUse" patternTransform="rotate(-45)"><rect width="10" height="10" fill="#5a6478"/><rect width="5" height="10" fill="#566073"/></pattern><pattern id="hd" width="14" height="14" patternUnits="userSpaceOnUse" patternTransform="rotate(-45)"><rect width="14" height="14" fill="#5a6478"/><rect width="7" height="14" fill="#2e2f34"/></pattern><pattern id="hd2" width="14" height="14" patternUnits="userSpaceOnUse" patternTransform="rotate(-45)"><rect width="14" height="14" fill="#3b3c41"/><rect width="7" height="14" fill="#2c2d31"/></pattern></defs>
<rect x="1048.0" y="576" width="1363.2" height="69" rx="10" fill="url(#hs)"/>
<rect x="1048.0" y="576" width="12" height="69" fill="url(#hs)"/>
<rect x="1979.5" y="648" width="431.7" height="69" rx="10" fill="#64ff8a"/>
<rect x="1048.0" y="720" width="931.5" height="69" rx="10" fill="url(#hs)"/>
<rect x="1048.0" y="720" width="12" height="69" fill="url(#hs)"/>
<rect x="1741.0" y="792" width="238.6" height="69" rx="10" fill="#ff5582"/>
<rect x="1048.0" y="864" width="693.0" height="69" rx="10" fill="url(#hs)"/>
<rect x="1048.0" y="864" width="12" height="69" fill="url(#hs)"/>
<rect x="1627.4" y="936" width="113.6" height="69" rx="10" fill="#ff5582"/>
<rect x="1048.0" y="1008" width="579.4" height="69" rx="10" fill="url(#hs)"/>
<rect x="1048.0" y="1008" width="12" height="69" fill="url(#hs)"/>
<rect x="1599.0" y="1080" width="28.4" height="69" rx="10" fill="#ff5582"/>
<rect x="1048.0" y="1152" width="551.0" height="69" rx="10" fill="#64ff8a"/>
<rect x="1048.0" y="1152" width="12" height="69" fill="#64ff8a"/>
<line x1="1048" y1="560" x2="1048" y2="1232" stroke="#a9b8c6" stroke-width="3"/>
<g stroke="#a3a8b0" stroke-width="1.7" stroke-dasharray="9 6">
<line x1="888" y1="1706.3" x2="2550" y2="1706.3"/>
<line x1="888" y1="1846.9" x2="2550" y2="1846.9"/>
<line x1="888" y1="1987" x2="2550" y2="1987"/>
<line x1="888" y1="2127.1" x2="2550" y2="2127.1"/>
<line x1="888" y1="2212.2" x2="2550" y2="2212.2"/>
<line x1="996.4" y1="1690" x2="996.4" y2="2212"/>
<line x1="1103" y1="1690" x2="1103" y2="2212"/>
<line x1="1210" y1="1690" x2="1210" y2="2212"/>
<line x1="1316.6" y1="1690" x2="1316.6" y2="2212"/>
<line x1="1426" y1="1690" x2="1426" y2="2212"/>
<line x1="1540.5" y1="1690" x2="1540.5" y2="2212"/>
<line x1="1660.6" y1="1690" x2="1660.6" y2="2212"/>
<line x1="1775.4" y1="1690" x2="1775.4" y2="2212"/>
<line x1="1890" y1="1690" x2="1890" y2="2212"/>
<line x1="2007.5" y1="1690" x2="2007.5" y2="2212"/>
<line x1="2127" y1="1690" x2="2127" y2="2212"/>
<line x1="2249.5" y1="1690" x2="2249.5" y2="2212"/>
<line x1="2370" y1="1690" x2="2370" y2="2212"/>
<line x1="2490" y1="1690" x2="2490" y2="2212"/>
</g>
<line x1="888" y1="1672" x2="888" y2="2213" stroke="#a9b8c6" stroke-width="3"/>
<polyline points="888.0,1815.5 942.7,1860.6 996.4,1882.1 1050.6,1980.1 1103.0,1928.5 1159.7,1859.3 1210.0,1916.5 1267.0,1996.0 1316.6,1942.3 1372.5,1918.6 1426.0,1927.2 1484.7,1867.1 1540.5,1942.3 1597.0,1926.4 1660.6,2016.2 1720.8,2066.9 1775.4,2044.6 1832.6,1996.0 1890.0,2006.7 1949.5,1970.2 2007.5,1996.0 2069.8,1921.6 2127.0,1988.7 2190.0,2006.7 2249.5,1900.2 2312.6,1981.0 2370.0,1928.5 2430.8,1859.3 2490.0,1920.8 2550.0,1904.4" fill="none" stroke="#a9b5c1" stroke-width="5" stroke-linejoin="round"/>
<polyline points="888.0,1848.6 942.7,1827.1 996.4,1841.3 1050.6,1858.5 1103.0,1834.0 1159.7,1889.8 1210.0,1835.7 1267.0,1867.1 1316.6,1901.4 1372.5,1879.9 1426.0,1885.5 1484.7,1897.1 1540.5,1862.8 1597.0,1884.2 1660.6,1874.4 1720.8,1906.6 1775.4,1884.2 1832.6,1921.6 1890.0,1910.0 1949.5,1925.9 2007.5,1879.1 2069.8,1886.4 2127.0,1842.1 2190.0,1847.7 2249.5,1855.0 2312.6,1829.2 2370.0,1833.5 2430.8,1817.6 2490.0,1829.7 2550.0,1817.6" fill="none" stroke="#ff9f5f" stroke-width="5" stroke-linejoin="round"/>
<polyline points="888.0,1801.3 942.7,1846.9 996.4,1861.9 1050.6,1938.8 1103.0,1891.6 1159.7,1755.3 1210.0,1871.4 1267.0,1931.5 1316.6,1918.6 1372.5,1907.0 1426.0,1914.3 1484.7,1789.7 1540.5,1911.3 1597.0,1907.9 1660.6,1990.4 1720.8,2006.7 1775.4,2019.6 1832.6,1965.9 1890.0,2000.3 1949.5,1951.7 2007.5,1985.3 2069.8,1837.8 2127.0,1977.5 2190.0,1983.1 2249.5,1787.5 2312.6,1967.2 2370.0,1910.9 2430.8,1834.0 2490.0,1884.7 2550.0,1861.9" fill="none" stroke="#5fe2ea" stroke-width="5" stroke-linejoin="round"/>
<polyline points="888.0,1832.7 942.7,1816.8 996.4,1824.1 1050.6,1824.1 1103.0,1824.1 1159.7,1840.4 1210.0,1824.1 1267.0,1818.5 1316.6,1839.1 1372.5,1833.5 1426.0,1824.1 1484.7,1826.2 1540.5,1833.5 1597.0,1821.1 1660.6,1821.1 1720.8,1826.2 1775.4,1816.8 1832.6,1829.2 1890.0,1824.1 1949.5,1824.1 2007.5,1829.2 2069.8,1826.2 2127.0,1821.1 2190.0,1821.1 2249.5,1821.1 2312.6,1816.8 2370.0,1821.9 2430.8,1824.1 2490.0,1821.1 2550.0,1827.5" fill="none" stroke="#64ff8a" stroke-width="5" stroke-linejoin="round"/>
</svg>
<div class="t" style="right:2825.00px;text-align:right;top:600.0px;font-size:22.5px;line-height:22.5px;color:#a7b0ba;font-weight:400;letter-spacing:0.00px;transform:scaleX(1.0514);transform-origin:100% 0;">Общее время</div>
<div class="t" style="right:2825.00px;text-align:right;top:658.6px;font-size:22.5px;line-height:22.5px;color:#a7b0ba;font-weight:400;letter-spacing:0.00px;transform:scaleX(1.0521);transform-origin:100% 0;">Плановые</div>
<div class="t" style="right:2825.00px;text-align:right;top:685.0px;font-size:22.5px;line-height:22.5px;color:#a7b0ba;font-weight:400;letter-spacing:0.00px;transform:scaleX(1.0886);transform-origin:100% 0;">остановки</div>
<div class="t" style="right:2825.00px;text-align:right;top:744.0px;font-size:22.5px;line-height:22.5px;color:#a7b0ba;font-weight:400;letter-spacing:0.00px;transform:scaleX(1.0575);transform-origin:100% 0;">Время работы</div>
<div class="t" style="right:2825.00px;text-align:right;top:816.0px;font-size:22.5px;line-height:22.5px;color:#a7b0ba;font-weight:400;letter-spacing:0.00px;transform:scaleX(1.0643);transform-origin:100% 0;">Потеря доступности</div>
<div class="t" style="right:2825.00px;text-align:right;top:876.7px;font-size:22.5px;line-height:22.5px;color:#a7b0ba;font-weight:400;letter-spacing:0.00px;transform:scaleX(1.0595);transform-origin:100% 0;">Чистое время</div>
<div class="t" style="right:2825.00px;text-align:right;top:898.3px;font-size:22.5px;line-height:22.5px;color:#a7b0ba;font-weight:400;letter-spacing:0.00px;transform:scaleX(1.0904);transform-origin:100% 0;">проиозводства</div>
<div class="t" style="right:2825.00px;text-align:right;top:946.7px;font-size:22.5px;line-height:22.5px;color:#a7b0ba;font-weight:400;letter-spacing:0.00px;transform:scaleX(1.0425);transform-origin:100% 0;">Потеря</div>
<div class="t" style="right:2825.00px;text-align:right;top:973.0px;font-size:22.5px;line-height:22.5px;color:#a7b0ba;font-weight:400;letter-spacing:0.00px;transform:scaleX(1.0988);transform-origin:100% 0;">продуктивности</div>
<div class="t" style="right:2825.00px;text-align:right;top:1020.9px;font-size:22.5px;line-height:22.5px;color:#a7b0ba;font-weight:400;letter-spacing:0.00px;transform:scaleX(1.0595);transform-origin:100% 0;">Чистое время</div>
<div class="t" style="right:2825.00px;text-align:right;top:1042.1px;font-size:22.5px;line-height:22.5px;color:#a7b0ba;font-weight:400;letter-spacing:0.00px;transform:scaleX(1.0416);transform-origin:100% 0;">работы</div>
<div class="t" style="right:2825.00px;text-align:right;top:1103.5px;font-size:22.5px;line-height:22.5px;color:#a7b0ba;font-weight:400;letter-spacing:0.00px;transform:scaleX(1.0470);transform-origin:100% 0;">Потеря качества</div>
<div class="t" style="right:2825.00px;text-align:right;top:1164.9px;font-size:22.5px;line-height:22.5px;color:#a7b0ba;font-weight:400;letter-spacing:0.00px;transform:scaleX(1.0230);transform-origin:100% 0;">Эффективное</div>
<div class="t" style="right:2825.00px;text-align:right;top:1185.4px;font-size:22.5px;line-height:22.5px;color:#a7b0ba;font-weight:400;letter-spacing:0.00px;transform:scaleX(1.0630);transform-origin:100% 0;">рабочее время</div>
<div class="t" style="left:48.00px;width:2000px;text-align:center;top:1256.3px;font-size:28px;line-height:28px;color:#9aa5b2;font-weight:400;letter-spacing:0.00px;transform:scaleX(1.0800);transform-origin:50% 0;">0</div>
<div class="t" style="left:161.60px;width:2000px;text-align:center;top:1256.3px;font-size:28px;line-height:28px;color:#9aa5b2;font-weight:400;letter-spacing:0.00px;transform:scaleX(1.0800);transform-origin:50% 0;">20</div>
<div class="t" style="left:275.20px;width:2000px;text-align:center;top:1256.3px;font-size:28px;line-height:28px;color:#9aa5b2;font-weight:400;letter-spacing:0.00px;transform:scaleX(1.0800);transform-origin:50% 0;">40</div>
<div class="t" style="left:388.80px;width:2000px;text-align:center;top:1256.3px;font-size:28px;line-height:28px;color:#9aa5b2;font-weight:400;letter-spacing:0.00px;transform:scaleX(1.0800);transform-origin:50% 0;">60</div>
<div class="t" style="left:502.40px;width:2000px;text-align:center;top:1256.3px;font-size:28px;line-height:28px;color:#9aa5b2;font-weight:400;letter-spacing:0.00px;transform:scaleX(1.0800);transform-origin:50% 0;">80</div>
<div class="t" style="left:616.00px;width:2000px;text-align:center;top:1256.3px;font-size:28px;line-height:28px;color:#9aa5b2;font-weight:400;letter-spacing:0.00px;transform:scaleX(1.0800);transform-origin:50% 0;">100</div>
<div class="t" style="left:729.60px;width:2000px;text-align:center;top:1256.3px;font-size:28px;line-height:28px;color:#9aa5b2;font-weight:400;letter-spacing:0.00px;transform:scaleX(1.0800);transform-origin:50% 0;">120</div>
<div class="t" style="left:843.20px;width:2000px;text-align:center;top:1256.3px;font-size:28px;line-height:28px;color:#9aa5b2;font-weight:400;letter-spacing:0.00px;transform:scaleX(1.0800);transform-origin:50% 0;">140</div>
<div class="t" style="left:956.80px;width:2000px;text-align:center;top:1256.3px;font-size:28px;line-height:28px;color:#9aa5b2;font-weight:400;letter-spacing:0.00px;transform:scaleX(1.0800);transform-origin:50% 0;">160</div>
<div class="t" style="left:1070.40px;width:2000px;text-align:center;top:1256.3px;font-size:28px;line-height:28px;color:#9aa5b2;font-weight:400;letter-spacing:0.00px;transform:scaleX(1.0800);transform-origin:50% 0;">180</div>
<div class="t" style="left:1184.00px;width:2000px;text-align:center;top:1256.3px;font-size:28px;line-height:28px;color:#9aa5b2;font-weight:400;letter-spacing:0.00px;transform:scaleX(1.0800);transform-origin:50% 0;">200</div>
<div class="t" style="left:1297.60px;width:2000px;text-align:center;top:1256.3px;font-size:28px;line-height:28px;color:#9aa5b2;font-weight:400;letter-spacing:0.00px;transform:scaleX(1.0800);transform-origin:50% 0;">220</div>
<div class="t" style="left:1411.20px;width:2000px;text-align:center;top:1256.3px;font-size:28px;line-height:28px;color:#9aa5b2;font-weight:400;letter-spacing:0.00px;transform:scaleX(1.0800);transform-origin:50% 0;">240</div>
<div class="t" style="left:1524.80px;width:2000px;text-align:center;top:1256.3px;font-size:28px;line-height:28px;color:#9aa5b2;font-weight:400;letter-spacing:0.00px;transform:scaleX(1.0800);transform-origin:50% 0;">260</div>
<div style="position:absolute;left:904px;top:1595px;width:16px;height:16px;border-radius:50%;background:#a9b5c1"></div>
<div class="t" style="left:942px;top:1586.4px;font-size:32px;line-height:32px;color:#a9b5c2;font-weight:400;letter-spacing:0.00px;transform:scaleX(1.0107);transform-origin:0 0;">OEE: <b>68%</b></div>
<div style="position:absolute;left:1181px;top:1595px;width:16px;height:16px;border-radius:50%;background:#ff9f5f"></div>
<div class="t" style="left:1219px;top:1586.4px;font-size:32px;line-height:32px;color:#a9b5c2;font-weight:400;letter-spacing:0.00px;transform:scaleX(1.0938);transform-origin:0 0;">Доступность: <b>94%</b></div>
<div style="position:absolute;left:1599px;top:1595px;width:16px;height:16px;border-radius:50%;background:#5fe2ea"></div>
<div class="t" style="left:1638px;top:1586.4px;font-size:32px;line-height:32px;color:#a9b5c2;font-weight:400;letter-spacing:0.18px;transform:scaleX(1.1000);transform-origin:0 0;">Производительность: <b>70%</b></div>
<div style="position:absolute;left:2162px;top:1595px;width:16px;height:16px;border-radius:50%;background:#64ff8a"></div>
<div class="t" style="left:2200px;top:1586.4px;font-size:32px;line-height:32px;color:#a9b5c2;font-weight:400;letter-spacing:0.00px;transform:scaleX(1.0846);transform-origin:0 0;">Качество: <b>99%</b></div>
<div class="t" style="right:2985.00px;text-align:right;top:1676.8px;font-size:28px;line-height:28px;color:#9aa5b2;font-weight:400;letter-spacing:0.00px;transform:scaleX(0.8447);transform-origin:100% 0;">125%</div>
<div class="t" style="right:2985.00px;text-align:right;top:1806.8px;font-size:28px;line-height:28px;color:#9aa5b2;font-weight:400;letter-spacing:0.00px;transform:scaleX(0.9145);transform-origin:100% 0;">100%</div>
<div class="t" style="right:2985.00px;text-align:right;top:1937.8px;font-size:28px;line-height:28px;color:#9aa5b2;font-weight:400;letter-spacing:0.00px;transform:scaleX(0.9278);transform-origin:100% 0;">75%</div>
<div class="t" style="right:2985.00px;text-align:right;top:2067.8px;font-size:28px;line-height:28px;color:#9aa5b2;font-weight:400;letter-spacing:0.00px;transform:scaleX(0.9635);transform-origin:100% 0;">50%</div>
<div class="t" style="right:2985.00px;text-align:right;top:2190.3px;font-size:28px;line-height:28px;color:#9aa5b2;font-weight:400;letter-spacing:0.00px;transform:scaleX(0.9278);transform-origin:100% 0;">25%</div>
<div class="t" style="left:-108.00px;width:2000px;text-align:center;top:2237.3px;font-size:28px;line-height:28px;color:#9aa5b2;font-weight:400;letter-spacing:0.00px;transform:scaleX(1.0800);transform-origin:50% 0;">1</div>
<div class="t" style="left:-5.00px;width:2000px;text-align:center;top:2237.3px;font-size:28px;line-height:28px;color:#9aa5b2;font-weight:400;letter-spacing:0.00px;transform:scaleX(1.0800);transform-origin:50% 0;">3</div>
<div class="t" style="left:101.00px;width:2000px;text-align:center;top:2237.3px;font-size:28px;line-height:28px;color:#9aa5b2;font-weight:400;letter-spacing:0.00px;transform:scaleX(1.0800);transform-origin:50% 0;">5</div>
<div class="t" style="left:208.00px;width:2000px;text-align:center;top:2237.3px;font-size:28px;line-height:28px;color:#9aa5b2;font-weight:400;letter-spacing:0.00px;transform:scaleX(1.0800);transform-origin:50% 0;">7</div>
<div class="t" style="left:314.00px;width:2000px;text-align:center;top:2237.3px;font-size:28px;line-height:28px;color:#9aa5b2;font-weight:400;letter-spacing:0.00px;transform:scaleX(1.0800);transform-origin:50% 0;">9</div>
<div class="t" style="left:424.00px;width:2000px;text-align:center;top:2237.3px;font-size:28px;line-height:28px;color:#9aa5b2;font-weight:400;letter-spacing:0.00px;transform:scaleX(1.0800);transform-origin:50% 0;">11</div>
<div class="t" style="left:538.00px;width:2000px;text-align:center;top:2237.3px;font-size:28px;line-height:28px;color:#9aa5b2;font-weight:400;letter-spacing:0.00px;transform:scaleX(1.0800);transform-origin:50% 0;">13</div>
<div class="t" style="left:654.00px;width:2000px;text-align:center;top:2237.3px;font-size:28px;line-height:28px;color:#9aa5b2;font-weight:400;letter-spacing:0.00px;transform:scaleX(1.0800);transform-origin:50% 0;">15</div>
<div class="t" style="left:771.00px;width:2000px;text-align:center;top:2237.3px;font-size:28px;line-height:28px;color:#9aa5b2;font-weight:400;letter-spacing:0.00px;transform:scaleX(1.0800);transform-origin:50% 0;">17</div>
<div class="t" style="left:887.00px;width:2000px;text-align:center;top:2237.3px;font-size:28px;line-height:28px;color:#9aa5b2;font-weight:400;letter-spacing:0.00px;transform:scaleX(1.0800);transform-origin:50% 0;">19</div>
<div class="t" style="left:1003.00px;width:2000px;text-align:center;top:2237.3px;font-size:28px;line-height:28px;color:#9aa5b2;font-weight:400;letter-spacing:0.00px;transform:scaleX(1.0800);transform-origin:50% 0;">21</div>
<div class="t" style="left:1124.00px;width:2000px;text-align:center;top:2237.3px;font-size:28px;line-height:28px;color:#f2f3f5;font-weight:700;letter-spacing:0.00px;transform:scaleX(0.9900);transform-origin:50% 0;">23</div>
<div class="t" style="left:1244.00px;width:2000px;text-align:center;top:2237.3px;font-size:28px;line-height:28px;color:#9aa5b2;font-weight:400;letter-spacing:0.00px;transform:scaleX(1.0800);transform-origin:50% 0;">25</div>
<div class="t" style="left:1367.00px;width:2000px;text-align:center;top:2237.3px;font-size:28px;line-height:28px;color:#9aa5b2;font-weight:400;letter-spacing:0.00px;transform:scaleX(1.0800);transform-origin:50% 0;">27</div>
<div class="t" style="left:1489.00px;width:2000px;text-align:center;top:2237.3px;font-size:28px;line-height:28px;color:#9aa5b2;font-weight:400;letter-spacing:0.00px;transform:scaleX(1.0800);transform-origin:50% 0;">29</div>
</body></html>
